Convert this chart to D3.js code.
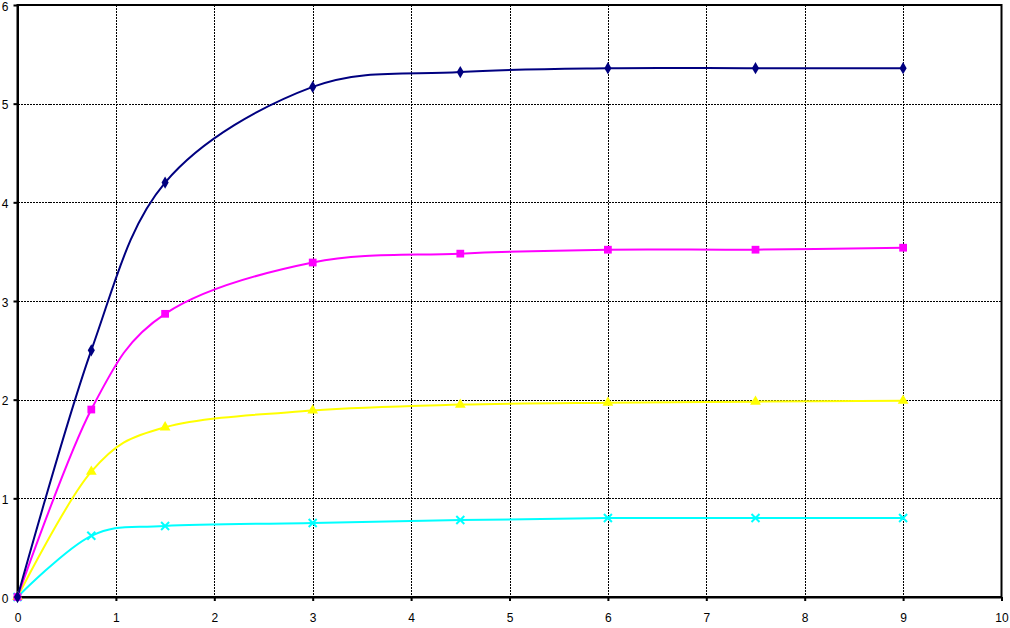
<!DOCTYPE html>
<html lang="en">
<head>
  <meta charset="UTF-8">
  <title>Curves</title>
  <style>
    body { margin: 0; background: #fff; }
    svg { display: block; font-family: "Liberation Sans", Arial, sans-serif; }
  </style>
</head>
<body>
  <div id="chart"></div>
  <script src="https://d3js.org/d3.v7.min.js"></script>
  <script>
    // sample positions along x
    const xValues = [0, 0.75, 1.5, 3, 4.5, 6, 7.5, 9];

    // series values
    const navySeries = [0, 2.5, 4.2, 5.17, 5.32, 5.36, 5.36, 5.36];
    const magentaSeries = [0, 1.9, 2.87, 3.39, 3.48, 3.52, 3.52, 3.54];
    const yellowSeries = [0, 1.27, 1.72, 1.89, 1.95, 1.97, 1.98, 1.99];
    const cyanSeries = [0, 0.62, 0.72, 0.75, 0.78, 0.80, 0.80, 0.80];

    const xTicks = [0, 1, 2, 3, 4, 5, 6, 7, 8, 9, 10];
    const yTicks = [0, 1, 2, 3, 4, 5, 6];

    const width = 1010;
    const height = 628;

    const svg = d3.select('#chart')
      .append('svg')
      .attr('width', width)
      .attr('height', height);

    const xScale = d3.scaleLinear().domain([0, 10]).range([17.5, 1001.5]);
    const yScale = d3.scaleLinear().domain([0, 6]).range([597, 5]);

    // dashed grid
    svg.append('g')
      .attr('shape-rendering', 'crispEdges')
      .selectAll('line')
      .data(xTicks.slice(1, -1))
      .join('line')
      .attr('x1', d => Math.round(xScale(d)) + 0.5)
      .attr('x2', d => Math.round(xScale(d)) + 0.5)
      .attr('y1', yScale(6))
      .attr('y2', yScale(0))
      .attr('stroke', '#000')
      .attr('stroke-width', 1.2)
      .attr('stroke-dasharray', '2,1');

    svg.append('g')
      .attr('shape-rendering', 'crispEdges')
      .selectAll('line')
      .data(yTicks.slice(1, -1))
      .join('line')
      .attr('x1', xScale(0))
      .attr('x2', xScale(10))
      .attr('y1', d => Math.round(yScale(d)) + 0.5)
      .attr('y2', d => Math.round(yScale(d)) + 0.5)
      .attr('stroke', '#000')
      .attr('stroke-width', 1.2)
      .attr('stroke-dasharray', '2,1');

    // plot border
    svg.append('rect')
      .attr('x', xScale(0))
      .attr('y', yScale(6))
      .attr('width', xScale(10) - xScale(0))
      .attr('height', yScale(0) - yScale(6))
      .attr('fill', 'none')
      .attr('stroke', '#000')
      .attr('stroke-width', 2);

    const xAxis = d3.axisBottom(xScale).tickValues(xTicks).tickFormat(d3.format('d'))
      .tickSize(4).tickSizeOuter(0).tickPadding(12);
    const yAxis = d3.axisLeft(yScale).tickValues(yTicks).tickFormat(d3.format('d'))
      .tickSize(4).tickSizeOuter(0).tickPadding(5);

    const gx = svg.append('g')
      .attr('transform', `translate(0, ${yScale(0)})`)
      .call(xAxis);
    const gy = svg.append('g')
      .attr('transform', `translate(${xScale(0)}, 0)`)
      .call(yAxis);

    [gx, gy].forEach(g => {
      g.select('.domain').attr('stroke-width', 2);
      g.selectAll('.tick line').attr('stroke-width', 2);
      g.selectAll('.tick text').attr('font-size', 12).attr('fill', '#000')
        .attr('font-family', '"Liberation Sans", Arial, sans-serif');
    });
    // nudge y labels down a touch so the top one stays on the page
    gy.selectAll('.tick text').attr('dy', '0.42em');

    const series = [
      { values: cyanSeries, color: '#00ffff', marker: 'x' },
      { values: yellowSeries, color: '#ffff00', marker: d3.symbolTriangle, size: 50 },
      { values: magentaSeries, color: '#ff00ff', marker: d3.symbolSquare, size: 60 },
      { values: navySeries, color: '#000080', marker: d3.symbolDiamond, size: 44 }
    ];

    const line = d3.line()
      .x(d => xScale(d[0]))
      .y(d => yScale(d[1]))
      .curve(d3.curveCardinal.tension(0));

    series.forEach(s => {
      const pts = xValues.map((x, i) => [x, s.values[i]]);
      svg.append('path')
        .datum(pts)
        .attr('d', line)
        .attr('fill', 'none')
        .attr('stroke', s.color)
        .attr('stroke-width', 2);
    });

    series.forEach(s => {
      const pts = xValues.map((x, i) => [x, s.values[i]]);
      const g = svg.append('g');
      if (s.marker === 'x') {
        g.selectAll('path')
          .data(pts)
          .join('path')
          .attr('transform', d => `translate(${xScale(d[0])}, ${yScale(d[1])})`)
          .attr('d', 'M-4,-4L4,4M-4,4L4,-4')
          .attr('fill', 'none')
          .attr('stroke', s.color)
          .attr('stroke-width', 2);
      } else {
        g.selectAll('path')
          .data(pts)
          .join('path')
          .attr('transform', d => `translate(${xScale(d[0])}, ${yScale(d[1])})`)
          .attr('d', d3.symbol().type(s.marker).size(s.size))
          .attr('fill', s.color);
      }
    });
  </script>
</body>
</html>
